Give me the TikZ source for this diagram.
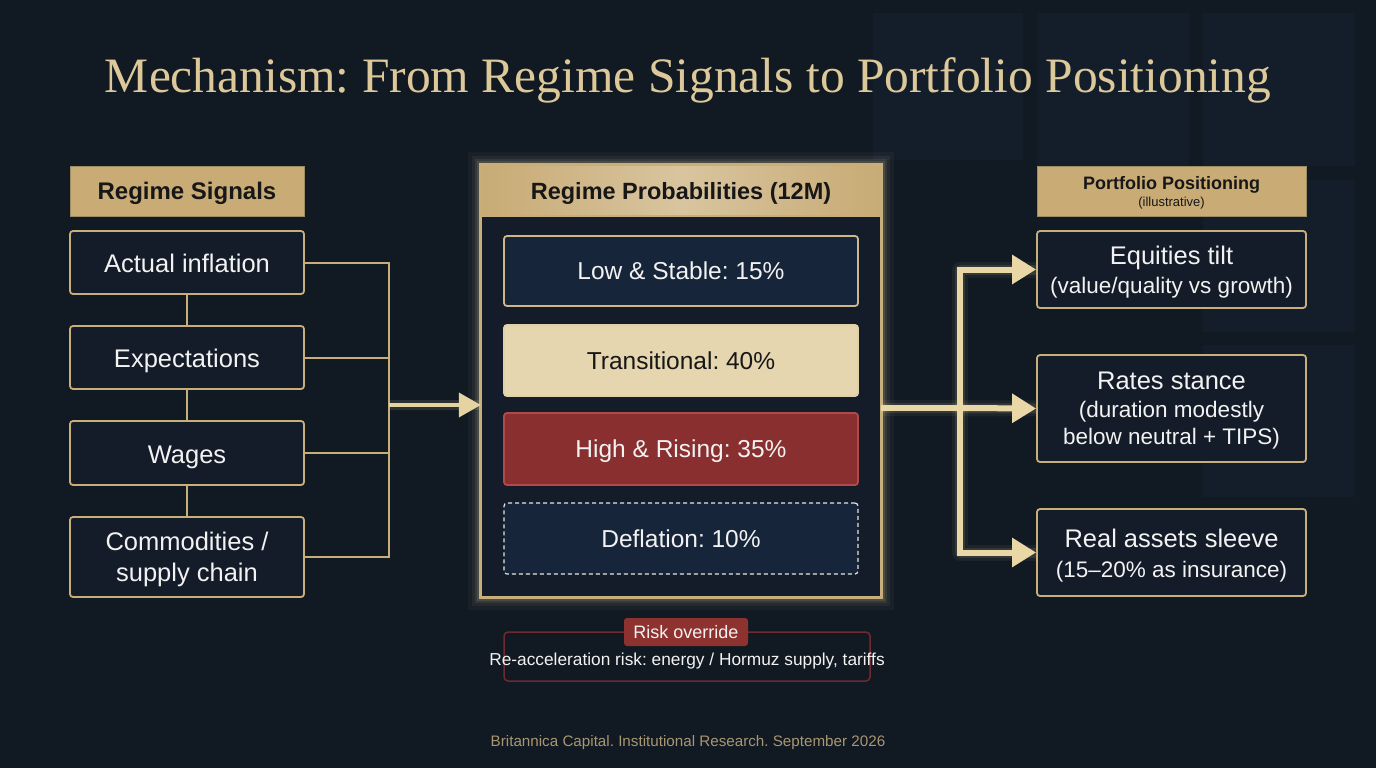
\documentclass[tikz,border=0pt]{standalone}
\usepackage{fontspec}
\setmainfont{Liberation Sans}
\newfontfamily\titlefont{Liberation Serif}
\usetikzlibrary{arrows.meta}
\frenchspacing
\definecolor{bg}{HTML}{111923}
\definecolor{boxfill}{HTML}{131C28}
\definecolor{gold}{HTML}{C7AE7A}
\definecolor{hdr}{HTML}{C8AB75}
\definecolor{hdrtext}{HTML}{171717}
\definecolor{navy}{HTML}{17253A}
\definecolor{cream}{HTML}{E6D6B0}
\definecolor{redbox}{HTML}{8A2F2F}
\definecolor{redborder}{HTML}{B04A4A}
\definecolor{arrowc}{HTML}{EAD7A6}
\definecolor{titlec}{HTML}{DCC899}
\definecolor{riskborder}{HTML}{6E2A30}
\definecolor{risktag}{HTML}{8E3230}
\definecolor{footc}{HTML}{A99672}
\definecolor{deco}{HTML}{141E2B}
\definecolor{txt}{HTML}{F2F2F2}
\tikzset{
  sigbox/.style={draw=gold, line width=1.8pt, fill=boxfill, rounded corners=3pt, text=txt, align=center, font=\fontsize{25.5}{30}\selectfont, inner sep=0pt},
  onel/.style={text height=25pt, text depth=4.6pt},
  boxtext/.style={text=txt, align=center, inner sep=0pt},
  hdrbox/.style={draw=gold!80!black, line width=1pt, fill=hdr, text=hdrtext, align=center, inner sep=0pt},
  regbox/.style={rounded corners=3pt, line width=1.8pt, align=center, font=\fontsize{24.5}{28}\selectfont, inner sep=0pt, minimum width=354pt, text height=22pt, text depth=4.4pt},
  thinlink/.style={draw=gold, line width=2pt},
  glowA/.style={draw=arrowc, line width=16pt, opacity=0.06, line join=round},
  glowB/.style={draw=arrowc, line width=10pt, opacity=0.12, line join=round},
  bigarrow/.style={draw=arrowc, line width=6pt, -{Triangle[length=24pt,width=28pt]}},
  midarrow/.style={draw=arrowc!90!gold, line width=4pt, -{Triangle[length=22pt,width=24pt]}},
}
\newcommand{\bigline}{\fontsize{25.5}{29}\selectfont}
\begin{document}
\begin{tikzpicture}[x=1pt,y=-1pt]
\fill[bg] (0,0) rectangle (1376,768);
\useasboundingbox (0,0) rectangle (1376,768);
% decorative squares
\fill[deco] (873,13) rectangle (1023,160);
\fill[deco] (1037,13) rectangle (1189,166);
\fill[deco] (1203,13) rectangle (1355,166);
\fill[deco] (1203,180) rectangle (1355,332);
\fill[deco] (1203,345) rectangle (1355,497);
% title
\node[text=titlec, font=\titlefont\fontsize{49.5}{54}\selectfont] (title) at (688,80) {Mechanism: From Regime Signals to Portfolio Positioning};
% left column
\node[hdrbox, minimum width=234pt, minimum height=50pt] (lh) at (187,191) {};
\node[text=hdrtext, font=\bfseries\fontsize{24}{28}\selectfont] (lht) at (187,193) {Regime Signals};
\node[sigbox, onel, minimum width=234pt, minimum height=63pt] (a1) at (187,262.5) {Actual inflation};
\node[sigbox, onel, minimum width=234pt, minimum height=63pt] (a2) at (187,357.5) {Expectations};
\node[sigbox, onel, minimum width=234pt, minimum height=64pt] (a3) at (187,453) {Wages};
\node[sigbox, minimum width=234pt, minimum height=80pt] (a4) at (187,557) {};
\node[boxtext, font=\fontsize{25.5}{31}\selectfont] (a4t) at (187,559) {Commodities /\\supply chain};
\draw[thinlink] (a1.south) -- (a2.north);
\draw[thinlink] (a2.south) -- (a3.north);
\draw[thinlink] (a3.south) -- (a4.north);
\coordinate (busL) at (389,405);
\coordinate (busLtop) at (389,262.5);
\coordinate (busLbot) at (389,557);
% middle container
\node[minimum width=400pt, minimum height=432pt, inner sep=0pt] (mid) at (681,381) {};
\foreach \w/\o in {26/0.04,18/0.06,12/0.09,7/0.12}{
  \draw[draw=arrowc, line width=\w pt, opacity=\o] (mid.north west) rectangle (mid.south east);
}
\fill[boxfill] (mid.north west) rectangle (mid.south east);
\shade[left color=hdr, right color=hdr, middle color=hdr!70!white] (mid.north west) rectangle (881,216);
\draw[gold, line width=3pt] (mid.north west) rectangle (mid.south east);
\draw[gold, line width=1.5pt] (481,216) -- (881,216);
\node[text=hdrtext, font=\bfseries\fontsize{23.5}{28}\selectfont] (mh) at (681,193) {Regime Probabilities (12M)};
\node[regbox, draw=gold!90!white, fill=navy, text=txt, minimum height=70pt] (r1) at (681,271) {Low \& Stable: 15\%};
\node[regbox, draw=cream!85!gold, fill=cream, text=hdrtext, minimum height=71pt] (r2) at (681,360.5) {Transitional: 40\%};
\node[regbox, draw=redborder, fill=redbox, text=txt, minimum height=72pt] (r3) at (681,449) {High \& Rising: 35\%};
\node[regbox, draw=white!80!gray, fill=navy, text=txt, line width=1.2pt, dash pattern=on 4pt off 3pt, minimum height=71pt] (r4) at (681,538.5) {Deflation: 10\%};
% left connectors
\foreach \n in {a1,a2,a3,a4}{
  \draw[thinlink] (\n.east) -| (busL);
}
\draw[thinlink] (busLtop) -- (busLbot);
\draw[glowB] (busL) -- (busL -| mid.west);
\draw[midarrow] (busL) -- (busL -| mid.west);
% right column
\node[hdrbox, minimum width=269pt, minimum height=50pt] (rh) at (1171.5,191) {};
\node[text=hdrtext, font=\bfseries\fontsize{18}{20}\selectfont] (rht) at (1171.5,185) {Portfolio Positioning};
\node[text=hdrtext, font=\fontsize{13}{15}\selectfont] (rhs) at (1171.5,203) {(illustrative)};
\node[sigbox, minimum width=269pt, minimum height=77pt] (p1) at (1171.5,269.5) {};
\node[boxtext, font=\fontsize{22.5}{29}\selectfont] (p1t) at (1171.5,272) {{\bigline Equities tilt}\\(value/quality vs growth)};
\node[sigbox, minimum width=269pt, minimum height=107pt] (p2) at (1171.5,408.5) {};
\node[boxtext, font=\fontsize{22.5}{28}\selectfont] (p2t) at (1171.5,411) {{\bigline Rates stance}\\(duration modestly\\[-1pt]below neutral + TIPS)};
\node[sigbox, minimum width=269pt, minimum height=87pt] (p3) at (1171.5,552.5) {};
\node[boxtext, font=\fontsize{22.5}{30}\selectfont] (p3t) at (1171.5,556) {{\bigline Real assets sleeve}\\(15--20\% as insurance)};
\coordinate (busR) at (960,408);
\draw[glowA] (mid.east |- busR) -- (p2.west);
\draw[glowA] (p1.west) -| (busR) |- (p3.west);
\draw[glowB] (mid.east |- busR) -- (p2.west);
\draw[glowB] (p1.west) -| (busR) |- (p3.west);
\draw[draw=arrowc, line width=6pt] (mid.east |- busR) -- (busR);
\draw[bigarrow] (busR) -- (p2.west);
\draw[bigarrow, line join=miter] (busR) |- (p1.west);
\draw[bigarrow, line join=miter] (busR) |- (p3.west);
% risk override
\node[draw=riskborder, line width=1.5pt, rounded corners=4pt, minimum width=366pt, minimum height=49pt] (risk) at (687,656.5) {};
\node[fill=risktag, rounded corners=3pt, text=txt, font=\fontsize{18}{22}\selectfont, minimum width=124pt, minimum height=28pt, inner sep=0pt] (tag) at (686,632) {Risk override};
\node[text=txt, font=\fontsize{17.3}{20}\selectfont] (risktext) at (687,661) {Re-acceleration risk: energy / Hormuz supply, tariffs};
% footer
\node[text=footc, font=\fontsize{15.2}{18}\selectfont] (foot) at (688,743) {Britannica Capital. Institutional Research. September 2026};
\end{tikzpicture}
\end{document}
